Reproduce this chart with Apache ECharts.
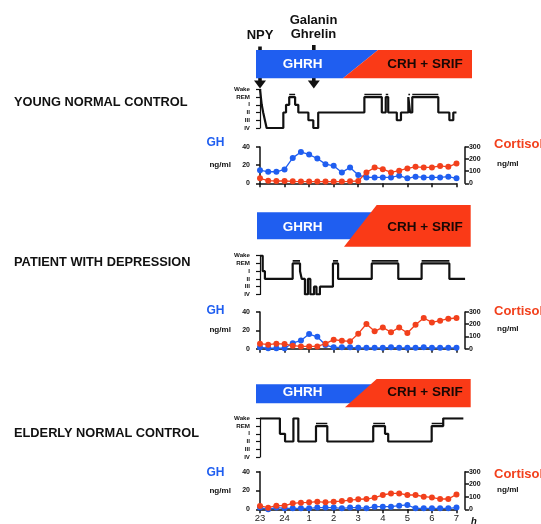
<!DOCTYPE html>
<html><head><meta charset="utf-8">
<script src="https://cdn.jsdelivr.net/npm/echarts@6/dist/echarts.min.js"></script>
<style>html,body{margin:0;padding:0;background:#fff}#c{width:541px;height:524px}</style>
</head><body><div id="c"></div>
<script>
// ---------- data ----------
const timeLabels = ['23','24','1','2','3','4','5','6','7'];
const sampleMin = [0,20,40,60,80,100,120,140,160,180,200,220,240,260,280,300,320,340,360,380,400,420,440,460,480];
const stageNames = ['IV','III','II','I','REM','Wake'];

const panelTitles = ['YOUNG NORMAL CONTROL','PATIENT WITH DEPRESSION','ELDERLY NORMAL CONTROL'];

// hypnograms: [hour since 23:00, stage]
const hypYoung = [[0,'Wake'],[0.07,'I'],[0.13,'II'],[0.2,'III'],[0.27,'IV'],[0.95,'II'],[1.06,'I'],[1.19,'REM'],[1.43,'I'],[1.56,'II'],[1.97,'III'],[2.17,'IV'],[2.37,'II'],[4.25,'REM'],[4.96,'II'],[5.12,'REM'],[5.22,'II'],[5.57,'III'],[5.74,'II'],[6.04,'REM'],[6.11,'II'],[6.2,'REM'],[7.26,'II'],[7.71,'III'],[7.87,'II'],[8.0,'II']];
const hypDep = [[0,'Wake'],[0.11,'I'],[0.2,'II'],[1.33,'REM'],[1.63,'I'],[1.7,'II'],[1.83,'IV'],[1.95,'II'],[2.05,'IV'],[2.2,'III'],[2.3,'IV'],[2.44,'III'],[2.97,'REM'],[3.18,'II'],[4.55,'REM'],[5.63,'II'],[6.58,'REM'],[7.71,'II'],[8.35,'II']];
const hypEld = [[0,'Wake'],[0.81,'I'],[1.02,'II'],[1.36,'Wake'],[1.56,'II'],[2.28,'REM'],[2.74,'II'],[4.61,'REM'],[5.09,'I'],[5.22,'II'],[6.99,'REM'],[7.46,'Wake'],[8.28,'Wake']];

// GH (ng/ml) and cortisol (ng/ml), every 20 min
const ghYoung   = [14.5,12.7,12.7,15.3,28,34.5,31.6,27.3,21.1,19.3,12,17.5,9.1,6.5,6.5,6.5,6.5,8.4,5.5,7.3,6.5,6.5,6.5,7.3,5.5];
const cortYoung = [41,22,19,19,16,14,14,14,14,14,14,16,19,90,131,117,90,104,123,136,131,131,144,136,164];
const ghDep     = [1.5,0.5,0.5,0.5,6,9,16,13,4,1.5,1.5,1.5,1,1,1,1,1.5,1,1,1,1.5,1,1,1,1];
const cortDep   = [41,33,41,38,25,19,19,19,41,74,65,60,123,202,142,174,134,174,128,196,251,215,229,245,251];
const ghEld     = [1.8,0,1.8,1,1,1,1,1.8,1.8,1.8,1,1.8,1.8,1,2.8,2.8,2.8,3.9,4.6,1,1,1,1,1,1.8];
const cortEld   = [27,13,29,29,48,53,56,61,56,61,66,74,80,82,93,114,127,127,114,114,101,95,82,82,119];

// ---------- layout ----------
const BLUE = '#1f5ef0', RED = '#f2401c', FONT = '"Liberation Sans", Arial, Helvetica, sans-serif';
const X0 = 260, PXH = 24.56, HYP_H = 38.7, HYP_MAX = 8.4;
const panels = [
  {hyp: hypYoung, gh: ghYoung, cort: cortYoung, hypTop: 89.3, ghTop: 147, ghH: 36.3},
  {hyp: hypDep,   gh: ghDep,   cort: cortDep,   hypTop: 255.7, ghTop: 312, ghH: 36.7},
  {hyp: hypEld,   gh: ghEld,   cort: cortEld,   hypTop: 418.3, ghTop: 471.7, ghH: 37.6}
];
const stageIdx = s => stageNames.indexOf(s);
const REM = stageIdx('REM');

const grid = [], xAxis = [], yAxis = [], series = [];
panels.forEach((p, k) => {
  const gH = 2*k, gG = 2*k+1;
  grid.push({left: X0, top: p.hypTop, width: HYP_MAX*PXH, height: HYP_H});
  grid.push({left: X0, top: p.ghTop, width: 8*PXH, height: p.ghH});
  xAxis.push({gridIndex: gH, type: 'value', min: 0, max: HYP_MAX, show: false});
  xAxis.push({gridIndex: gG, type: 'value', min: 0, max: 480, interval: 60,
    axisLine: {show: true, lineStyle: {color: '#111', width: 1.5}},
    axisTick: {show: true, length: 4, lineStyle: {color: '#111', width: 1.5}},
    splitLine: {show: false},
    axisLabel: {show: k === 2, formatter: v => timeLabels[v/60], fontSize: 9.5, color: '#222', margin: 4, fontFamily: FONT}});
  const yi = yAxis.length;
  yAxis.push({gridIndex: gH, type: 'value', min: 0, max: 5, interval: 1, position: 'left', offset: 8,
    axisLine: {show: true, lineStyle: {color: '#111', width: 1.2}},
    axisTick: {show: true, length: 4, lineStyle: {color: '#111', width: 1.2}},
    splitLine: {show: false},
    axisLabel: {formatter: v => stageNames[v], fontSize: 6.2, fontWeight: 'bold', color: '#111', margin: 2, fontFamily: FONT}});
  yAxis.push({gridIndex: gG, type: 'value', min: 0, max: 40, interval: 20, position: 'left', offset: 7,
    axisLine: {show: true, lineStyle: {color: '#111', width: 1.5}},
    axisTick: {show: true, length: 4, lineStyle: {color: '#111', width: 1.5}},
    splitLine: {show: false},
    axisLabel: {fontSize: 7, fontWeight: 'bold', color: '#111', margin: 3, fontFamily: FONT}});
  yAxis.push({gridIndex: gG, type: 'value', min: 0, max: 300, interval: 100, position: 'right', offset: 8.5,
    axisLine: {show: true, lineStyle: {color: '#111', width: 1.5}},
    axisTick: {show: true, length: 4, lineStyle: {color: '#111', width: 1.5}},
    splitLine: {show: false},
    axisLabel: {fontSize: 7, fontWeight: 'bold', color: '#111', margin: 4, fontFamily: FONT}});

  series.push({type: 'line', xAxisIndex: gH, yAxisIndex: yi, step: 'end', showSymbol: false, symbol: 'none',
    data: p.hyp.map(d => [d[0], stageIdx(d[1])]), lineStyle: {color: '#111', width: 2.2}, silent: true});
  const rem = [];
  for (let i = 0; i < p.hyp.length - 1; i++) {
    if (p.hyp[i][1] === 'REM') { rem.push([p.hyp[i][0], REM + 0.33], [p.hyp[i+1][0], REM + 0.33], '-'); }
  }
  series.push({type: 'line', xAxisIndex: gH, yAxisIndex: yi, symbol: 'none', connectNulls: false,
    data: rem, lineStyle: {color: '#111', width: 1.6}, silent: true});
  series.push({type: 'line', xAxisIndex: gG, yAxisIndex: yi+1, symbol: 'circle', symbolSize: 6,
    data: sampleMin.map((m, i) => [m, p.gh[i]]), lineStyle: {color: BLUE, width: 1.3}, itemStyle: {color: BLUE}});
  series.push({type: 'line', xAxisIndex: gG, yAxisIndex: yi+2, symbol: 'circle', symbolSize: 6,
    data: sampleMin.map((m, i) => [m, p.cort[i]]), lineStyle: {color: RED, width: 1.3}, itemStyle: {color: RED}});
});

// ---------- annotations ----------
function txt(text, x, y, size, color, align, weight, style) {
  return {type: 'text', z: 100, style: {text, x, y, fill: color, font: (style||'') + ' ' + (weight||'bold') + ' ' + size + 'px ' + FONT,
    align: align||'left', verticalAlign: 'middle', textAlign: align||'left', textVerticalAlign: 'middle'}};
}
function poly(points, color) { return {type: 'polygon', z: 50, shape: {points}, style: {fill: color}}; }

const bars = [
  {blue: [[256,50],[378,50],[343,78.3],[256,78.3]], red: [[378,50],[472,50],[472,78.3],[343,78.3]], ty: 64.5},
  {blue: [[257,212.3],[378,212.3],[378,239.3],[257,239.3]], red: [[376.7,205],[470.7,205],[470.7,246.7],[344,246.7]], ty: 227.7},
  {blue: [[256,384.3],[378,384.3],[378,403.3],[256,403.3]], red: [[376.7,379],[470.7,379],[470.7,407.3],[345,407.3]], ty: 392}
];
const graphic = [];
bars.forEach(b => {
  graphic.push(poly(b.blue, BLUE));
  graphic.push(poly(b.red, '#fa3a17'));
  graphic.push(txt('GHRH', 302.5, b.ty, 13.5, '#ffffff', 'center'));
  graphic.push(txt('CRH + SRIF', 425, b.ty, 13.5, '#1a0805', 'center'));
});
// arrows
[[260, 46.5], [313.8, 45]].forEach(a => {
  graphic.push({type: 'rect', z: 40, shape: {x: a[0]-1.8, y: a[1], width: 3.6, height: 36}, style: {fill: '#111'}});
  graphic.push(poly([[a[0]-6, 80.5], [a[0]+6, 80.5], [a[0], 88.5]], '#111'));
});
graphic.push(txt('NPY', 260, 35, 13, '#111', 'center'));
graphic.push(txt('Galanin', 313.5, 20, 13, '#111', 'center'));
graphic.push(txt('Ghrelin', 313.5, 34.5, 13, '#111', 'center'));

const titleY = [102, 262, 433];
const labelY = [[143, 165, 144, 164], [311, 330, 311, 329], [473, 490.5, 474.5, 489.5]];
panels.forEach((p, k) => {
  graphic.push(txt(panelTitles[k], 14, titleY[k], 12.8, '#111', 'left'));
  graphic.push(txt('GH', 224.5, labelY[k][0], 12, BLUE, 'right'));
  graphic.push(txt('ng/ml', 231, labelY[k][1], 8.1, '#111', 'right'));
  graphic.push(txt('Cortisol', 494, labelY[k][2], 13, RED, 'left'));
  graphic.push(txt('ng/ml', 497, labelY[k][3], 8.1, '#111', 'left'));
});
graphic.push(txt('h', 471, 521.5, 9.5, '#111', 'left', 'bold', 'italic'));

const chart = echarts.init(document.getElementById('c'), null, {renderer: 'canvas'});
chart.setOption({animation: false, backgroundColor: '#fff', grid, xAxis, yAxis, series, graphic});
</script></body></html>
